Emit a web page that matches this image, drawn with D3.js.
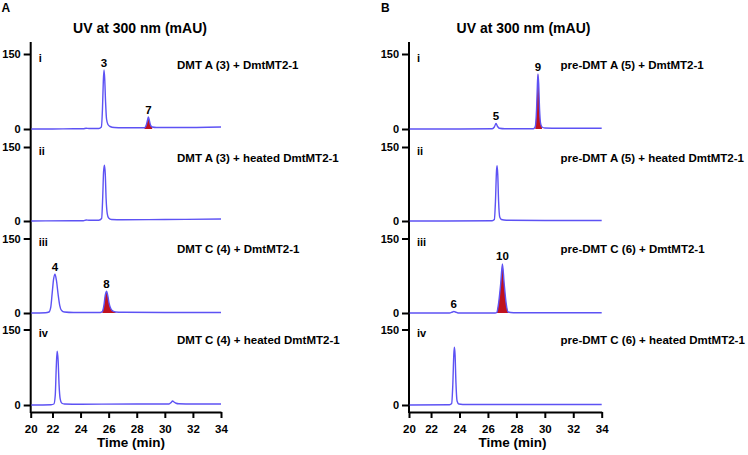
<!DOCTYPE html>
<html><head><meta charset="utf-8">
<script src="https://cdn.jsdelivr.net/npm/d3@7"></script>
<style>
html,body{margin:0;padding:0;background:#fff;}
svg text{font-family:"Liberation Sans",Arial,sans-serif;font-weight:bold;fill:#000;}
</style></head>
<body>
<svg id="chart" width="748" height="455"></svg>
<script>
// ---------- data ----------
const xTicks = [20, 22, 24, 26, 28, 30, 32, 34];
const yTicks = [0, 150];
const timeStart = 20.45, timeEnd = 34;

const panelLetters = ["A", "B"];
const romanLabels = ["i", "ii", "iii", "iv"];
const conditionsA = ["DMT A (3) + DmtMT2-1", "DMT A (3) + heated DmtMT2-1",
                     "DMT C (4) + DmtMT2-1", "DMT C (4) + heated DmtMT2-1"];
const conditionsB = ["pre-DMT A (5) + DmtMT2-1", "pre-DMT A (5) + heated DmtMT2-1",
                     "pre-DMT C (6) + DmtMT2-1", "pre-DMT C (6) + heated DmtMT2-1"];

// chromatograms: [time (min), UV 300 nm (mAU)]
const traceA1 = [[20.5,0],[22,0],[23.5,0.5],[24.2,0.5],[24.4,1.5],[24.6,1],[25.3,1],[25.48,4],[25.56,40],[25.62,95],[25.67,118],[25.72,100],[25.78,55],[25.85,20],[25.95,9],[26.1,5],[26.4,3],[27,2.5],[28,2.5],[28.55,2.5],[28.68,8],[28.77,18],[28.83,24],[28.9,17],[28.98,8],[29.1,4],[29.4,3],[31,3],[34,4]];
const traceA2 = [[20.5,0],[23.5,0.5],[24.2,0.5],[24.4,2],[24.6,1.5],[25.3,1.5],[25.5,5],[25.58,50],[25.64,100],[25.7,113],[25.76,95],[25.82,45],[25.9,15],[26,6],[26.2,3],[27,2.5],[30,3],[34,4]];
const traceA3 = [[20.5,0],[21.5,0.5],[21.75,2],[21.88,12],[21.98,40],[22.08,68],[22.18,78],[22.28,66],[22.4,38],[22.52,15],[22.65,5],[22.85,2],[23.5,1],[25.4,1],[25.55,3],[25.66,15],[25.76,36],[25.85,44],[25.93,36],[26.03,20],[26.15,9],[26.3,4],[26.5,2],[27,1.5],[30,1],[34,1]];
const traceA4 = [[20.5,0],[21.9,0.5],[22.1,2],[22.2,20],[22.27,75],[22.33,107],[22.4,90],[22.47,40],[22.55,12],[22.65,4],[22.85,2],[24,1.5],[28,2],[30.3,2],[30.45,5],[30.55,8],[30.65,6],[30.8,3.5],[31,2.5],[32,2],[34,2]];
const traceB1 = [[20.5,0],[24,0],[26.3,0.5],[26.45,4],[26.57,11],[26.68,5],[26.8,1.5],[27.2,0.5],[29.2,0.5],[29.33,5],[29.42,40],[29.48,90],[29.52,110],[29.57,90],[29.63,40],[29.7,12],[29.8,4],[30,2],[31,1.5],[34,1.5]];
const traceB2 = [[20.5,0],[26.3,0.5],[26.45,3],[26.53,40],[26.6,100],[26.64,112],[26.69,95],[26.75,40],[26.83,8],[26.95,3],[27.3,1.5],[30,1],[34,1]];
const traceB3 = [[20.5,0],[23.3,0],[23.5,2],[23.6,3],[23.72,2],[23.9,0],[26.5,0],[26.62,1],[26.75,20],[26.9,60],[27.02,99],[27.14,60],[27.28,20],[27.42,2],[27.6,1],[28,0.5],[34,0.5]];
const traceB4 = [[20.5,0],[23.3,0.5],[23.45,3],[23.53,40],[23.6,100],[23.64,115],[23.69,100],[23.75,45],[23.83,8],[23.95,2],[24.5,1],[34,1]];

const tracesA = [traceA1, traceA2, traceA3, traceA4];
const tracesB = [traceB1, traceB2, traceB3, traceB4];

// product peaks shaded red: [row, start time, end time]
const shadedA = [[0, 28.55, 29.2], [2, 25.45, 26.5]];
const shadedB = [[0, 29.25, 29.9], [2, 26.55, 27.5]];

// peak labels: [row, time, mAU, label]
const peaksA = [[0, 25.67, 118, "3"], [0, 28.83, 24, "7"], [2, 22.18, 78, "4"], [2, 25.85, 44, "8"]];
const peaksB = [[0, 26.57, 11, "5"], [0, 29.52, 110, "9"], [2, 23.6, 3, "6"], [2, 27.02, 99, "10"]];

// ---------- layout ----------
const svg = d3.select("#chart");
const rowZero = [129, 221, 313, 405];
const rowTop = [54, 147, 238.5, 329.5];
const axisY = 412, axisTop = 42;
const lineColor = "#5d52f4", fillColor = "#c0121e";

const panels = [
  {letter: panelLetters[0], left: 30.7, right: 221, condX: 177, titleX: 140, timeX: 131, traces: tracesA, conds: conditionsA, shaded: shadedA, peaks: peaksA, letterX: 1.5},
  {letter: panelLetters[1], left: 409, right: 601.7, condX: 560.5, titleX: 523.5, timeX: 512.5, traces: tracesB, conds: conditionsB, shaded: shadedB, peaks: peaksB, letterX: 381}
];

panels.forEach(p => {
  const g = svg.append("g");
  const x = d3.scaleLinear().domain([timeStart, timeEnd]).range([p.left, p.right]);
  const ys = rowZero.map((z, i) => d3.scaleLinear().domain([0, 150]).range([z, rowTop[i]]));

  g.append("text").attr("x", p.letterX).attr("y", 11.5).attr("font-size", 12).text(p.letter);
  g.append("text").attr("x", p.titleX).attr("y", 32.5).attr("text-anchor", "middle")
    .attr("font-size", 14).text("UV at 300 nm (mAU)");

  // y axis line
  g.append("line").attr("x1", p.left).attr("x2", p.left).attr("y1", axisTop).attr("y2", axisY + 1)
    .attr("stroke", "#000").attr("stroke-width", 2);

  ys.forEach((y, i) => {
    const ya = g.append("g").attr("transform", `translate(${p.left},0)`)
      .call(d3.axisLeft(y).tickValues(yTicks).tickSize(7).tickPadding(3));
    ya.select(".domain").remove();
    ya.selectAll("line").attr("stroke-width", 2);
    ya.selectAll("text").attr("font-size", 11).style("font-family", "Liberation Sans, Arial").style("font-weight", "bold");

    // shaded areas
    p.shaded.filter(s => s[0] === i).forEach(s => {
      const pts = p.traces[i].filter(d => d[0] >= s[1] && d[0] <= s[2]);
      g.append("path").datum(pts)
        .attr("d", d3.area().x(d => x(d[0])).y0(y(0)).y1(d => y(d[1])).curve(d3.curveMonotoneX))
        .attr("fill", fillColor);
    });

    g.append("path").datum(p.traces[i])
      .attr("d", d3.line().x(d => x(d[0])).y(d => y(d[1])).curve(d3.curveMonotoneX))
      .attr("fill", "none").attr("stroke", lineColor).attr("stroke-width", 1.4);

    g.append("text").attr("x", p.left + 8).attr("y", rowTop[i] + 7.5).attr("font-size", 11).text(romanLabels[i]);
    g.append("text").attr("x", p.condX).attr("y", rowTop[i] + 14.5).attr("font-size", 11.5).text(p.conds[i]);
  });

  p.peaks.forEach(pk => {
    g.append("text").attr("x", x(pk[1])).attr("y", ys[pk[0]](pk[2]) - 3.5)
      .attr("text-anchor", "middle").attr("font-size", 11.5).text(pk[3]);
  });

  // x axis
  const xa = g.append("g").attr("transform", `translate(0,${axisY})`)
    .call(d3.axisBottom(x).tickValues(xTicks.map(t => Math.max(t, timeStart)))
      .tickFormat(d => Math.floor(d)).tickSize(6).tickSizeOuter(0).tickPadding(7));
  xa.select(".domain").attr("stroke-width", 2);
  xa.selectAll("line").attr("stroke-width", 2);
  xa.selectAll("text").attr("font-size", 11.5).style("font-family", "Liberation Sans, Arial").style("font-weight", "bold");

  g.append("text").attr("x", p.timeX).attr("y", 447).attr("text-anchor", "middle")
    .attr("font-size", 13.5).text("Time (min)");
});
</script>
</body></html>
